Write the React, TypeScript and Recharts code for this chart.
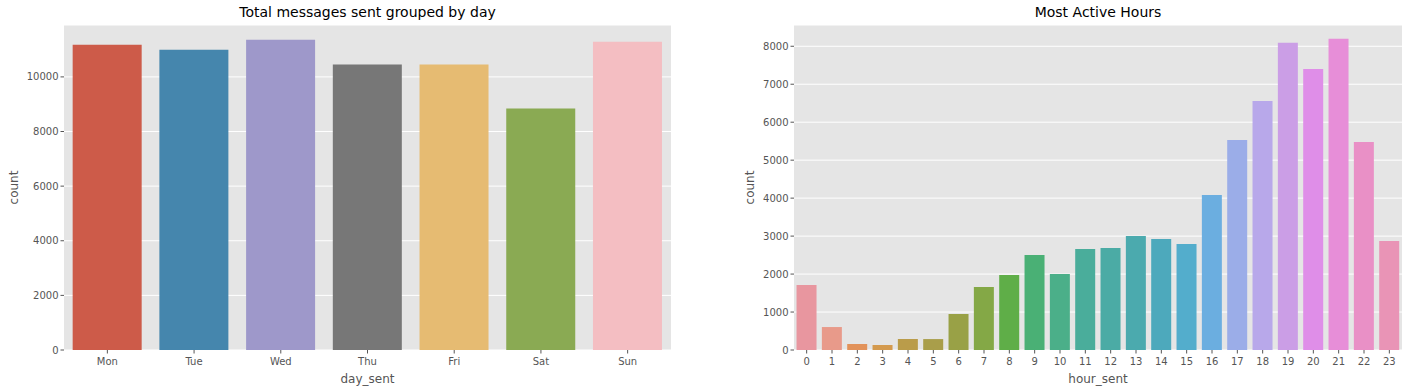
import React from 'react'
import { Bar, BarChart, CartesianGrid, Cell, XAxis, YAxis } from 'recharts'

const days = ['Mon', 'Tue', 'Wed', 'Thu', 'Fri', 'Sat', 'Sun']
const dayCounts = [11180, 10995, 11360, 10450, 10450, 8840, 11290]
const dayColors = ['#CD5B49', '#4586AD', '#9E98CA', '#777777', '#E6BB72', '#8AAA53', '#F4BEC2']
const dayTicks = [0, 2000, 4000, 6000, 8000, 10000]

const hours = Array.from({ length: 24 }, (_, i) => String(i))
const hourCounts = [
  1710, 605, 158, 132, 290, 288, 948, 1660, 1975, 2505, 2000, 2660,
  2688, 3000, 2925, 2790, 4080, 5530, 6560, 8090, 7400, 8195, 5480, 2870,
]
const hourColors = [
  '#E8969F', '#E89A8A', '#E2925A', '#D49A4E', '#BA9C4A', '#A99E4A', '#99A146', '#84A846',
  '#5FAE48', '#4AB075', '#4BAF89', '#4AAD9B', '#4BABA5', '#4BAAAE', '#4DA9BC', '#53ADCC',
  '#6BAEE0', '#9BADE8', '#B8A8EA', '#CB9EE6', '#DF8EE8', '#E78ED8', '#E990C6', '#E994B6',
]
const hourTicks = [0, 1000, 2000, 3000, 4000, 5000, 6000, 7000, 8000]

const dayData = days.map((d, i) => ({ day_sent: d, count: dayCounts[i] }))
const hourData = hours.map((h, i) => ({ hour_sent: h, count: hourCounts[i] }))

const font = 'DejaVu Sans, sans-serif'
const tickStyle = { fontSize: 10, fill: '#555555', fontFamily: font }
const labelStyle = { fontSize: 12, fill: '#555555', fontFamily: font }

function Title({ text, left, width }: { text: string; left: number; width: number }) {
  return (
    <div
      style={{
        position: 'absolute',
        top: 4,
        left,
        width,
        textAlign: 'center',
        fontFamily: font,
        fontSize: 14,
        color: '#000',
      }}
    >
      {text}
    </div>
  )
}

export default function App() {
  return (
    <div style={{ position: 'fixed', top: 0, left: 0, width: 1408, height: 391, background: '#fff' }}>
      <Title text="Total messages sent grouped by day" left={64} width={607} />
      <Title text="Most Active Hours" left={794} width={608} />

      <div style={{ position: 'absolute', left: 0, top: 0 }}>
        <BarChart
          width={700}
          height={391}
          data={dayData}
          margin={{ top: 25, right: 29, bottom: 0, left: 0 }}
          barCategoryGap="10%"
        >
          <CartesianGrid vertical={false} stroke="#ffffff" strokeWidth={1} fill="#E5E5E5" fillOpacity={1} />
          <XAxis
            dataKey="day_sent"
            height={41}
            axisLine={false}
            tickLine={{ stroke: '#555555' }}
            tickSize={3.5}
            tickMargin={4}
            tick={tickStyle}
            label={{ value: 'day_sent', position: 'insideBottom', offset: 8, style: labelStyle }}
          />
          <YAxis
            width={64}
            domain={[0, 11900]}
            ticks={dayTicks}
            axisLine={false}
            tickLine={{ stroke: '#555555' }}
            tickSize={3.5}
            tick={tickStyle}
            label={{ value: 'count', angle: -90, position: 'insideLeft', offset: 14, style: { ...labelStyle, textAnchor: 'middle' } }}
          />
          <Bar dataKey="count" isAnimationActive={false}>
            {dayData.map((_, i) => (
              <Cell key={i} fill={dayColors[i]} />
            ))}
          </Bar>
        </BarChart>
      </div>

      <div style={{ position: 'absolute', left: 700, top: 0 }}>
        <BarChart
          width={708}
          height={391}
          data={hourData}
          margin={{ top: 25, right: 6, bottom: 0, left: 0 }}
          barCategoryGap="10%"
        >
          <CartesianGrid vertical={false} stroke="#ffffff" strokeWidth={1} fill="#E5E5E5" fillOpacity={1} />
          <XAxis
            dataKey="hour_sent"
            height={41}
            interval={0}
            axisLine={false}
            tickLine={{ stroke: '#555555' }}
            tickSize={3.5}
            tickMargin={4}
            tick={tickStyle}
            label={{ value: 'hour_sent', position: 'insideBottom', offset: 8, style: labelStyle }}
          />
          <YAxis
            width={94}
            domain={[0, 8560]}
            ticks={hourTicks}
            axisLine={false}
            tickLine={{ stroke: '#555555' }}
            tickSize={3.5}
            tick={tickStyle}
            label={{ value: 'count', angle: -90, position: 'insideLeft', offset: 50, style: { ...labelStyle, textAnchor: 'middle' } }}
          />
          <Bar dataKey="count" isAnimationActive={false}>
            {hourData.map((_, i) => (
              <Cell key={i} fill={hourColors[i]} />
            ))}
          </Bar>
        </BarChart>
      </div>
    </div>
  )
}
